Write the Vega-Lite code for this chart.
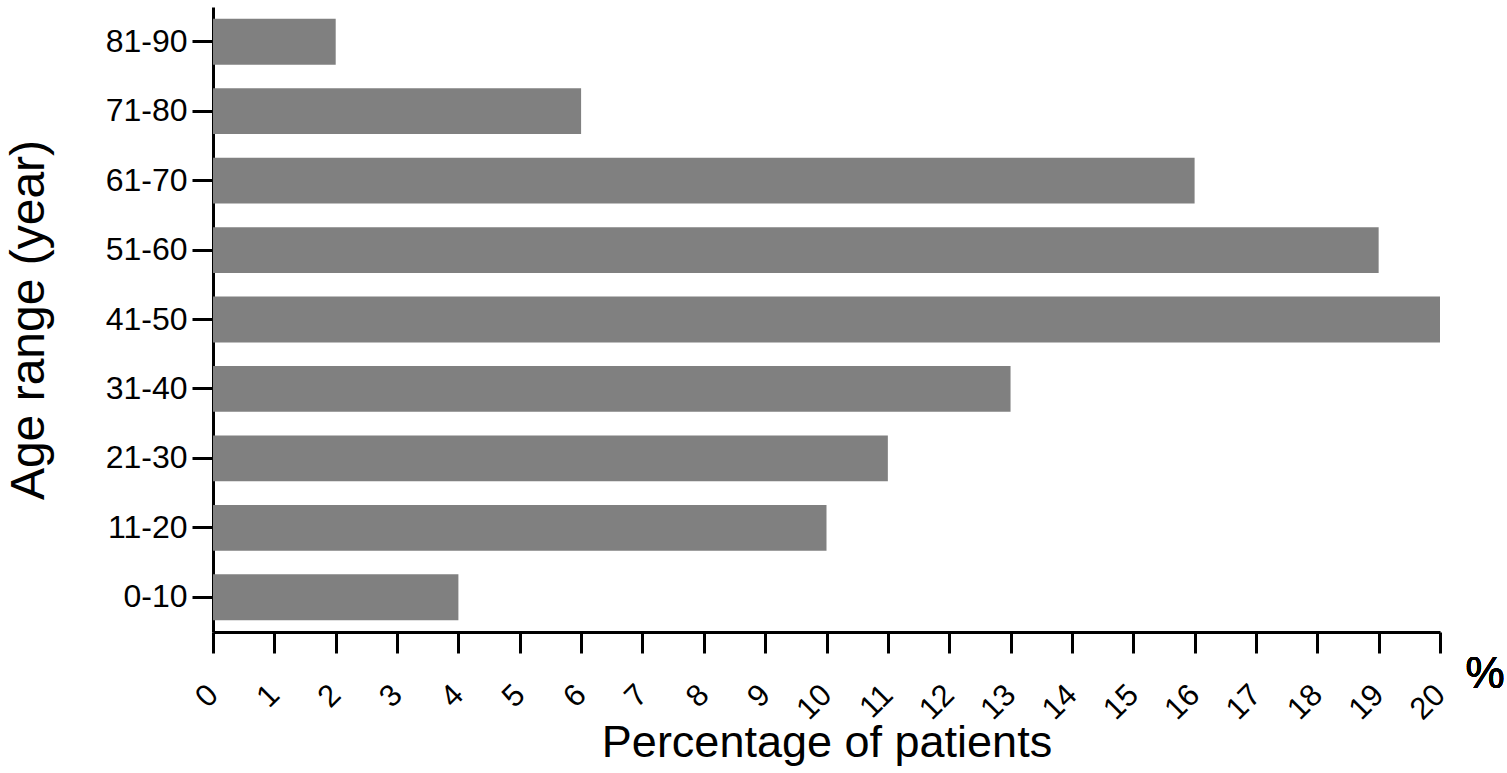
{
  "$schema": "https://vega.github.io/schema/vega-lite/v6.json",
  "autosize": {"type": "none"},
  "width": 1227,
  "height": 625,
  "padding": {"left": 213, "right": 67, "top": 7, "bottom": 141},
  "background": "white",
  "config": {
    "view": {"stroke": null},
    "font": "Liberation Sans",
    "axis": {
      "domainColor": "black",
      "domainWidth": 3,
      "tickColor": "black",
      "tickWidth": 3,
      "tickSize": 21,
      "labelColor": "black",
      "titleColor": "black",
      "labelFont": "Liberation Sans",
      "titleFont": "Liberation Sans",
      "titleFontWeight": "normal",
      "grid": false
    }
  },
  "data": {
    "values": [
      {"age": "81-90", "pct": 2},
      {"age": "71-80", "pct": 6},
      {"age": "61-70", "pct": 16},
      {"age": "51-60", "pct": 19},
      {"age": "41-50", "pct": 20},
      {"age": "31-40", "pct": 13},
      {"age": "21-30", "pct": 11},
      {"age": "11-20", "pct": 10},
      {"age": "0-10", "pct": 4}
    ]
  },
  "layer": [
    {
      "mark": {"type": "bar", "color": "#808080"},
      "encoding": {
        "y": {
          "field": "age",
          "type": "nominal",
          "sort": null,
          "scale": {"paddingInner": 0.34, "paddingOuter": 0.17},
          "axis": {
            "title": "Age range (year)",
            "titleFontSize": 48,
            "titlePadding": 52,
            "labelFontSize": 32,
            "labelPadding": 5
          }
        },
        "x": {
          "field": "pct",
          "type": "quantitative",
          "scale": {"domain": [0, 20], "nice": false},
          "axis": {
            "title": "Percentage of patients",
            "titleFontSize": 45,
            "titlePadding": -4,
            "values": [0,1,2,3,4,5,6,7,8,9,10,11,12,13,14,15,16,17,18,19,20],
            "format": "d",
            "labelAngle": -45,
            "labelAlign": "right",
            "labelBaseline": "middle",
            "labelFontSize": 31,
            "labelPadding": 37,
            "labelDx": 6,
            "labelFlush": false,
            "labelOverlap": false
          }
        }
      }
    },
    {
      "mark": {"type": "text", "text": "%", "fontSize": 44, "align": "center", "baseline": "middle", "dx": 45, "dy": 78, "color": "black", "font": "Liberation Sans"},
      "encoding": {
        "x": {"datum": 20, "type": "quantitative"},
        "y": {"datum": "0-10", "type": "nominal"}
      }
    }
  ]
}
